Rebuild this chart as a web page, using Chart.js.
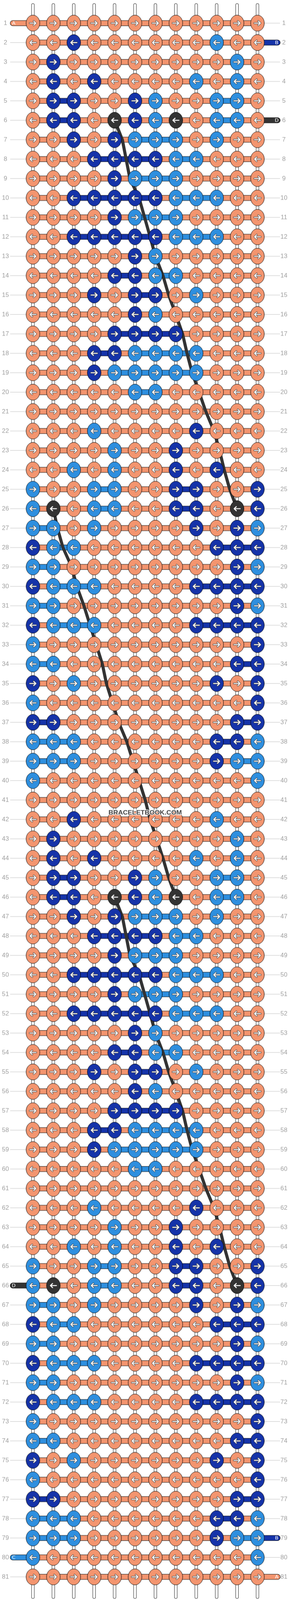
<!DOCTYPE html>
<html><head><meta charset="utf-8">
<script src="https://cdn.jsdelivr.net/npm/chart.js@4/dist/chart.umd.min.js"></script>
<style>html,body{margin:0;padding:0;background:#fff;overflow:hidden}#wrap{width:740px;height:4284px;transform-origin:0 0}canvas{display:block}</style>
</head><body>
<div id="wrap"><canvas id="c" width="740" height="4284" style="width:740px;height:4284px"></canvas></div>
<script>
// ---- DATA ----
const columns = [1,2,3,4,5,6,7,8,9,10,11,12];
const rowCount = 81;
// knot colours for rows 1..40 (S salmon, D dark blue, L light blue, K black); pattern repeats every 40 rows
const patternRows = [
 "SSSSSSSSSSSS","SSDSSSSSSLSS","SDSSSSSSSSLS","SDSDSSSSLSLS","SDDSSDLSSLLS",
 "SDDSKDLKSLLS","SSDSDLLLSLSS","SSSDDDDLLSSS","SSSSDLLLSSSS","SSDDDDDLLLSS",
 "SSSSDLLLSSSS","SSDDDDDLLLSS","SSSSSDLSSSSS","SSSSDDLLSSSS","SSSDSDDSLSSS",
 "SSSSSDLSSSSS","SSSSDDDDSSSS","SSSDDLLLLSSS","SSSDLLLLLSSS","SSSSSLLSSSSS",
 "SSSSSSSSSSSS","SSSLSSSSDSSS","SSSSLSSDSSSS","SSLSLSSDSDSS","LSSLLSSDDSSD",
 "LKSLLSSDDSKD","LLSLSSSSDSDL","DLLSSSSSSDDD","LLSSSSSSSSDL","DLLLSSSSDDDD",
 "LLSSSSSSSSDL","DLLLSSSSDDDD","LSSSSSSSSSSD","LLSSSSSSSSDD","DSLSSSSSSDSD",
 "LSSSSSSSSSSD","DDSSSSSSSSDD","LLLSSSSSSDDL","LLLSSSSSSDLL","LSSSSSSSSSSL"
];
const lastRow = "SSSSSSSSSSSS";
const palette = {S:"#F3956F", D:"#1533A9", L:"#2E8FDF", K:"#333333"};
// thread end caps: row, side, colour key, letter
const capRows = [1,2,6,66,79,80,81];
const capSides = ["L","R","R","L","R","L","R"];
const capColors = ["S","D","K","K","D","L","S"];
const capLetters = ["A","B","D","D","B","C","A"];
// black strand path (column position per row)
const strandA_rows = [6,7,9,10,12,13,14,15,16,17,18,19,20,21,22,23,24,25,26];
const strandA_cols = [5,5.38,5.75,6.2,6.74,7.0,7.37,7.65,8.0,8.33,8.55,8.8,9.14,9.47,9.87,10.14,10.37,10.64,11];
const strandB_rows = [26,27,28,29,30,31,32,33,34,35,36,37,38,39,40,41,42,43,44,45,46];
const strandB_cols = [2,2.2,2.47,2.9,3.15,3.5,3.8,4.1,4.4,4.6,4.9,5.2,5.6,5.9,6.2,6.5,6.74,7.06,7.37,7.65,8];
const watermark = "BRACELETBOOK.COM";

// ---- fit page to the window ----
(function(){
  const w=window.innerWidth||740, h=window.innerHeight||4284;
  document.getElementById('wrap').style.transform='scale('+(w/740)+','+(h/4284)+')';
})();

// ---- BUILD ----
function rowPattern(r){ return r===rowCount ? lastRow : patternRows[(r-1)%40]; }

function knotImg(color, right){
  const c=document.createElement('canvas'); c.width=40; c.height=48;
  const g=c.getContext('2d');
  g.beginPath(); g.ellipse(20,24,17.5,21.5,0,0,Math.PI*2);
  g.fillStyle=color; g.fill(); g.lineWidth=1; g.strokeStyle="#000"; g.stroke();
  g.save(); g.translate(20,24); if(!right) g.scale(-1,1);
  g.beginPath(); g.moveTo(-8,0); g.lineTo(7,0); g.moveTo(2,-5.5); g.lineTo(7.5,0); g.lineTo(2,5.5);
  g.lineCap="round"; g.lineJoin="round";
  g.strokeStyle="#333"; g.lineWidth=4.5; g.stroke();
  g.strokeStyle="#fff"; g.lineWidth=2.5; g.stroke();
  g.restore();
  return c;
}
const imgs={};
for(const k in palette){ imgs[k+"R"]=knotImg(palette[k],true); imgs[k+"L"]=knotImg(palette[k],false); }

const knots=[], knotStyles=[];
const threads=[];
for(let r=1;r<=rowCount;r++){
  const p=rowPattern(r), right=(r%2===1);
  columns.forEach((c,i)=>{
    knots.push({x:c,y:r}); knotStyles.push(imgs[p[i]+(right?"R":"L")]);
    let sc=palette.S;
    if(i<columns.length-1){ const a=p[i], b=p[i+1]; if(a===b) sc=palette[a]; }
    threads.push({x:c,y:r,sc:sc});
  });
  threads.push({x:null,y:null});
}
const verticals=[];
columns.forEach(c=>{ verticals.push({x:c,y:0.06},{x:c,y:82.05},{x:null,y:null}); });
const caps=[];
capRows.forEach((r,i)=>{
  const left=capSides[i]==="L";
  caps.push({x:left?0.02:12.98,y:r,cc:palette[capColors[i]]},{x:left?1:12,y:r,cc:palette[capColors[i]]},{x:null,y:null});
});
const strand=[];
strandA_rows.forEach((r,i)=>strand.push({x:strandA_cols[i],y:r}));
strand.push({x:null,y:null});
strandB_rows.forEach((r,i)=>strand.push({x:strandB_cols[i],y:r}));
strand.push({x:null,y:null});
strandA_rows.forEach((r,i)=>strand.push({x:strandA_cols[i],y:r+40}));

const labelsPlugin={
  id:'labels',
  beforeDatasetsDraw(chart){
    const g=chart.ctx, xs=chart.scales.x, ys=chart.scales.y;
    g.save();
    for(let r=1;r<=rowCount;r++){
      const y=ys.getPixelForValue(r);
      g.strokeStyle="#bdbdbd"; g.lineWidth=1.2;
      g.beginPath(); g.moveTo(26,y); g.lineTo(xs.getPixelForValue(1)-17,y);
      g.moveTo(xs.getPixelForValue(12)+17,y); g.lineTo(717,y); g.stroke();
      g.fillStyle="#a0a0a0"; g.font="16px 'Liberation Sans', Arial, sans-serif";
      g.textBaseline="middle"; g.textAlign="center";
      g.fillText(String(r),14,y+1); g.fillText(String(r),727,y+1);
    }
    g.restore();
  },
  afterDatasetsDraw(chart){
    const g=chart.ctx, xs=chart.scales.x, ys=chart.scales.y;
    g.save();
    g.font="13px 'DejaVu Sans', sans-serif"; g.textBaseline="middle"; g.textAlign="center";
    capRows.forEach((r,i)=>{
      const left=capSides[i]==="L";
      const x=xs.getPixelForValue(left?0.02:12.98)+(left?2:-2), y=ys.getPixelForValue(r);
      g.fillStyle="#fff"; g.fillText(capLetters[i],x,y+1);
    });
    g.font="bold 17px 'Liberation Sans', Arial, sans-serif";
    g.textAlign="center";
    const wx=xs.getPixelForValue(6.5), wy=ys.getPixelForValue(42)-18;
    g.lineWidth=3; g.strokeStyle="#fff"; g.strokeText(watermark,wx,wy);
    g.fillStyle="#444"; g.fillText(watermark,wx,wy);
    g.restore();
  }
};

new Chart(document.getElementById('c'),{
  type:'scatter',
  data:{datasets:[
    {label:'knots',data:knots,pointStyle:ctx=>knotStyles[ctx.dataIndex],pointRadius:20,showLine:false,clip:false},
    {label:'strand',data:strand,showLine:true,borderColor:'#333',borderWidth:8,pointRadius:0,spanGaps:false,borderCapStyle:'round'},
    {label:'caps',data:caps,showLine:true,borderWidth:13,pointRadius:0,spanGaps:false,borderCapStyle:'round',
      segment:{borderColor:ctx=>ctx.chart.data.datasets[2].data[ctx.p0DataIndex].cc}},
    {label:'capsOutline',data:caps,showLine:true,borderWidth:15,borderColor:'#000',pointRadius:0,spanGaps:false,borderCapStyle:'round'},
    {label:'threads',data:threads,showLine:true,borderWidth:13,pointRadius:0,spanGaps:false,
      segment:{borderColor:ctx=>ctx.chart.data.datasets[4].data[ctx.p0DataIndex].sc}},
    {label:'threadsOutline',data:threads,showLine:true,borderWidth:15,borderColor:'#000',pointRadius:0,spanGaps:false},
    {label:'vertInner',data:verticals,showLine:true,borderWidth:6,borderColor:'#fff',pointRadius:0,spanGaps:false,borderCapStyle:'round'},
    {label:'vertOuter',data:verticals,showLine:true,borderWidth:8,borderColor:'#222',pointRadius:0,spanGaps:false,borderCapStyle:'round'}
  ]},
  plugins:[labelsPlugin],
  options:{
    responsive:false,maintainAspectRatio:false,animation:false,devicePixelRatio:1,
    layout:{padding:0,autoPadding:false},
    plugins:{legend:{display:false},tooltip:{enabled:false}},
    scales:{
      x:{type:'linear',min:-0.613,max:13.544,display:false},
      y:{type:'linear',min:-0.192,max:82.192,reverse:true,display:false}
    }
  }
});
</script>
</body></html>
